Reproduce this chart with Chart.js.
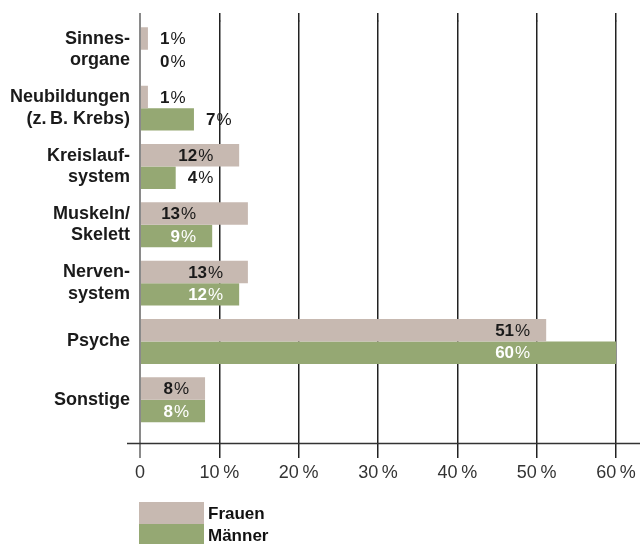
<!DOCTYPE html>
<html>
<head>
<meta charset="utf-8">
<script src="https://cdn.jsdelivr.net/npm/chart.js@4"></script>
<style>
body{margin:0;background:#fff;font-family:"Liberation Sans",Arial,sans-serif}
#wrap{position:relative;width:640px;height:544px}
.lg{position:absolute;left:139px;width:65px;height:22px}
.lt{position:absolute;left:208px;font-weight:bold;font-size:17px;line-height:22px;color:#111}
</style>
</head>
<body>
<div id="wrap">
<canvas id="c" width="640" height="544"></canvas>
<div class="lg" style="top:502px;background:#C7B9B1"></div><div class="lt" style="top:503px">Frauen</div>
<div class="lg" style="top:524px;background:#95A873"></div><div class="lt" style="top:525px">Männer</div>
</div>
<script>
const categories=[["Sinnes-","organe"],["Neubildungen","(z.\u2009B. Krebs)"],["Kreislauf-","system"],["Muskeln/","Skelett"],["Nerven-","system"],"Psyche","Sonstige"];
const frauen=[1,1,12.5,13.6,13.6,51.2,8.2];
const maenner=[0,6.8,4.5,9.1,12.5,60,8.2];
const frauenLabels=[1,1,12,13,13,51,8];
const maennerLabels=[0,7,4,9,12,60,8];
const xTicks=[0,10,20,30,40,50,60];
const colors={frauen:"#C7B9B1",maenner:"#95A873",text:"#1a1a1a",grid:"#222",zero:"#8a8a8a"};
const font='"Liberation Sans",Arial,sans-serif';

const extras={id:"extras",
  beforeDatasetsDraw(chart){
    const {ctx,chartArea:a,scales:{x}}=chart;
    ctx.save();
    xTicks.forEach(v=>{
      const w=v===0?2:1.5, h=w/2;
      const px=Math.round(x.getPixelForValue(v)-h)+h;
      ctx.strokeStyle=v===0?colors.zero:colors.grid;ctx.lineWidth=w;
      ctx.beginPath();ctx.moveTo(px,13);ctx.lineTo(px,a.top+1);ctx.stroke();
    });
    ctx.strokeStyle="#333";ctx.lineWidth=1.5;
    ctx.beginPath();ctx.moveTo(127,443.5);ctx.lineTo(640,443.5);ctx.stroke();
    ctx.restore();
  },
  afterDatasetsDraw(chart){
    const {ctx,chartArea:a}=chart;
    const mf=chart.getDatasetMeta(0).data, mm=chart.getDatasetMeta(1).data;
    const lab=[frauenLabels,maennerLabels];
    const bold="bold 17px "+font, reg="17px "+font;
    const width=n=>{ctx.font=bold;const w1=ctx.measureText(String(n)).width;ctx.font=reg;return w1+1+ctx.measureText("%").width;};
    const draw=(n,right,y,color)=>{
      ctx.fillStyle=color;ctx.textBaseline="middle";ctx.textAlign="right";
      ctx.font=reg;ctx.fillText("%",right,y+1);
      const pw=ctx.measureText("%").width;
      ctx.font=bold;ctx.fillText(String(n),right-pw-1,y+1);
    };
    ctx.save();
    categories.forEach((c,i)=>{
      const bars=[mf[i],mm[i]];
      const ends=bars.map(b=>b.x);
      const m=Math.min(...ends);
      if(m-a.left>=60){
        bars.forEach((b,k)=>draw(lab[k][i],m-16,b.y,k===1?"#fff":colors.text));
      }else{
        const close=Math.abs(ends[0]-ends[1])<15;
        let refRight=null;
        bars.forEach((b,k)=>{
          if(b.x-a.left<60){
            const left=(close?Math.max(...ends):b.x)+12;
            const r=left+width(lab[k][i]);
            refRight=refRight==null?r:refRight;
            draw(lab[k][i],r,b.y,colors.text);
          }
        });
        bars.forEach((b,k)=>{
          if(b.x-a.left>=60) draw(lab[k][i],refRight,b.y,k===1?"#fff":colors.text);
        });
      }
    });
    ctx.restore();
  }
};

new Chart("c",{type:"bar",
  data:{labels:categories,datasets:[
    {label:"Frauen",data:frauen,backgroundColor:colors.frauen,categoryPercentage:0.77,barPercentage:1},
    {label:"Männer",data:maenner,backgroundColor:colors.maenner,categoryPercentage:0.77,barPercentage:1}
  ]},
  options:{indexAxis:"y",responsive:false,animation:false,devicePixelRatio:1,
    layout:{padding:{top:19,right:24,left:0,bottom:0}},
    plugins:{legend:{display:false},tooltip:{enabled:false}},
    scales:{
      y:{offset:true,grid:{display:false,drawTicks:false},border:{display:false},
        afterFit:s=>{s.width=140},
        ticks:{padding:10,color:colors.text,font:{family:font,size:18,weight:"bold",lineHeight:1.18}}},
      x:{min:0,max:60,border:{display:false},
        afterFit:s=>{s.height=115},
        afterBuildTicks:s=>{s.ticks=xTicks.map(v=>({value:v}))},
        grid:{tickLength:29,color:c=>c.tick&&c.tick.value===0?colors.zero:colors.grid,lineWidth:c=>c.tick&&c.tick.value===0?2:1.5},
        ticks:{padding:4,color:"#333",font:{family:font,size:18},callback:v=>v===0?"0":v+"\u2009%"}}
    }
  },
  plugins:[extras]
});
</script>
</body>
</html>
